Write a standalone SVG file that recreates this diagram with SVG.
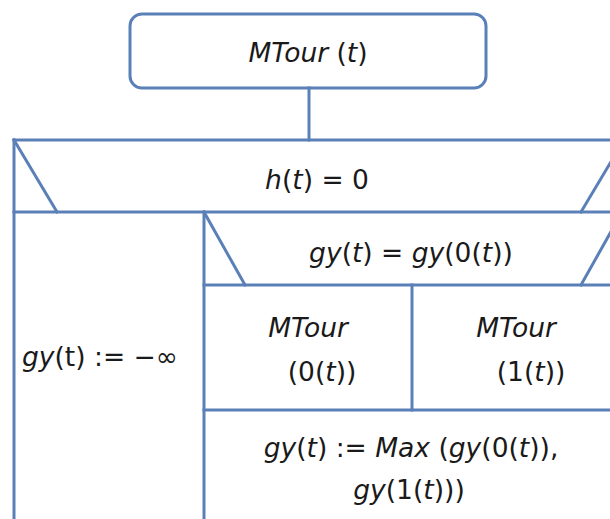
<svg xmlns="http://www.w3.org/2000/svg" width="610" height="519" viewBox="0 0 610 519">
  <style>
    .ln { stroke: #5b80b8; stroke-width: 3; fill: none; stroke-linecap: square; }
    .box { stroke: #5b80b8; stroke-width: 3; fill: #ffffff; }
    .t { font-family: "DejaVu Sans", "Liberation Sans", sans-serif; font-size: 26.5px; fill: #1a1a1a; }
    .i { font-style: italic; }
  </style>
  <rect width="610" height="519" fill="#ffffff"/>

  <!-- procedure header -->
  <g id="header">
    <rect class="box" x="130" y="14" width="356" height="74" rx="12" ry="12"/>
    <text class="t" x="308" y="62" text-anchor="middle"><tspan class="i">MTour</tspan> (<tspan class="i">t</tspan>)</text>
  </g>

  <!-- structogram frame lines -->
  <g id="connectors">
    <line class="ln" x1="309" y1="88" x2="309" y2="140"/>
    <!-- outer decision h(t) = 0 -->
    <line class="ln" x1="14" y1="140" x2="612" y2="140"/>
    <line class="ln" x1="14" y1="140" x2="14" y2="521"/>
    <line class="ln" x1="14" y1="140" x2="57" y2="212"/>
    <line class="ln" x1="581" y1="212" x2="624" y2="140"/>
    <line class="ln" x1="14" y1="212" x2="612" y2="212"/>
    <!-- inner decision -->
    <line class="ln" x1="204" y1="212" x2="204" y2="521"/>
    <line class="ln" x1="204" y1="212" x2="245" y2="285"/>
    <line class="ln" x1="581" y1="285" x2="622" y2="212"/>
    <line class="ln" x1="204" y1="285" x2="612" y2="285"/>
    <line class="ln" x1="412" y1="285" x2="412" y2="410"/>
    <line class="ln" x1="204" y1="410" x2="612" y2="410"/>
  </g>

  <g id="cond-leaf">
    <text class="t" x="317" y="189" text-anchor="middle"><tspan class="i">h</tspan>(<tspan class="i">t</tspan>) = 0</text>
  </g>

  <g id="cond-gy">
    <text class="t" x="411" y="262" text-anchor="middle"><tspan class="i">gy</tspan>(<tspan class="i">t</tspan>) = <tspan class="i">gy</tspan>(0(<tspan class="i">t</tspan>))</text>
  </g>

  <g id="leaf-assign">
    <text class="t" x="22" y="366"><tspan class="i">gy</tspan>(t) := −∞</text>
  </g>

  <g id="call-left">
    <text class="t" x="308" y="337" text-anchor="middle"><tspan class="i">MTour</tspan></text>
    <text class="t" x="322" y="381" text-anchor="middle">(0(<tspan class="i">t</tspan>))</text>
  </g>

  <g id="call-right">
    <text class="t" x="516" y="337" text-anchor="middle"><tspan class="i">MTour</tspan></text>
    <text class="t" x="531" y="381" text-anchor="middle">(1(<tspan class="i">t</tspan>))</text>
  </g>

  <g id="max-assign">
    <text class="t" x="411" y="457" text-anchor="middle"><tspan class="i">gy</tspan>(<tspan class="i">t</tspan>) := <tspan class="i">Max</tspan> (<tspan class="i">gy</tspan>(0(<tspan class="i">t</tspan>)),</text>
    <text class="t" x="409" y="499" text-anchor="middle"><tspan class="i">gy</tspan>(1(<tspan class="i">t</tspan>)))</text>
  </g>
</svg>
